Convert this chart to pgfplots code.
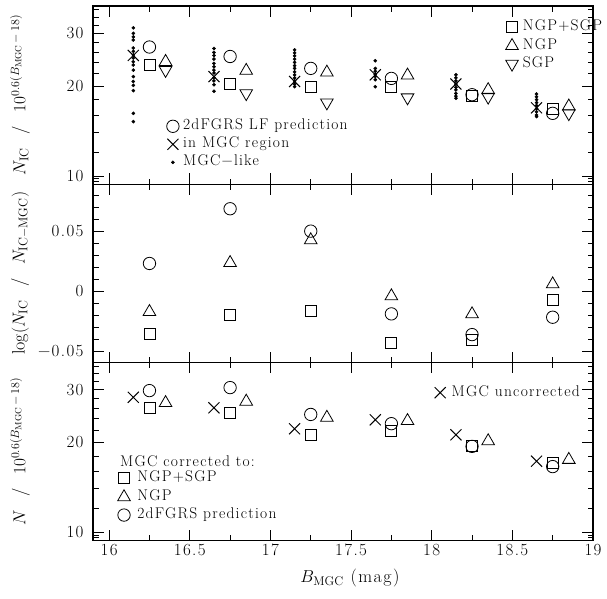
\documentclass[border=0pt]{standalone}
\usepackage{fontspec}
\setmainfont{Latin Modern Roman}[LetterSpace=8]
\usepackage{pgfplots}
\usepackage{pgfplotstable}
\pgfplotsset{compat=1.18}

% ---------------- data ----------------
% top panel: number counts in the input catalogues
\pgfplotstableread{
x y
16.15 25.3
16.65 21.5
17.15 20.7
17.65 21.8
18.15 20.3
18.65 16.9
}\topcross
\pgfplotstableread{
x y
16.15 31.3
16.15 30.0
16.15 29.2
16.15 28.5
16.15 26.8
16.15 26.1
16.15 25.4
16.15 24.8
16.15 24.1
16.15 23.5
16.15 22.6
16.15 21.5
16.15 20.7
16.15 20.1
16.15 19.3
16.15 16.2
16.15 15.2
16.65 26.7
16.65 25.9
16.65 25.3
16.65 24.6
16.65 23.8
16.65 23.2
16.65 22.6
16.65 22.1
16.65 21.3
16.65 20.8
16.65 20.2
16.65 19.2
17.15 26.4
17.15 25.8
17.15 25.2
17.15 24.6
17.15 24.0
17.15 23.4
17.15 22.9
17.15 22.3
17.15 21.8
17.15 21.3
17.15 20.8
17.15 20.3
17.15 19.9
17.65 24.3
17.65 22.9
17.65 22.4
17.65 21.9
17.65 21.5
17.65 21.0
17.65 19.9
18.15 21.8
18.15 21.3
18.15 20.8
18.15 20.3
18.15 19.8
18.15 19.4
18.15 18.9
18.15 18.5
18.15 18.2
18.65 18.8
18.65 18.4
18.65 18.0
18.65 17.6
18.65 17.2
18.65 16.8
18.65 16.4
18.65 16.0
18.65 15.8
}\topdots
\pgfplotstableread{
x y
16.25 27.0
16.75 25.1
17.25 22.9
17.75 21.2
18.25 18.7
18.75 16.2
}\toppred
\pgfplotstableread{
x y
16.25 23.5
16.75 20.4
17.25 19.8
17.75 19.8
18.25 18.5
18.75 16.7
}\topboth
\pgfplotstableread{
x y
16.35 24.1
16.85 22.5
17.35 22.2
17.85 21.7
18.35 19.4
18.85 17.1
}\topngp
\pgfplotstableread{
x y
16.35 22.6
16.85 18.9
17.35 17.6
17.85 18.3
18.35 18.4
18.85 16.2
}\topsgp

% middle panel: log ratio to the counts in the MGC region
\pgfplotstableread{
x y
16.25 0.0232
16.75 0.0689
17.25 0.0502
17.75 -0.0189
18.25 -0.0362
18.75 -0.0217
}\midpred
\pgfplotstableread{
x y
16.25 -0.0172
16.75 0.0237
17.25 0.0427
17.75 -0.0041
18.25 -0.0191
18.75 0.0059
}\midngp
\pgfplotstableread{
x y
16.25 -0.0354
16.75 -0.0195
17.25 -0.0161
17.75 -0.0432
18.25 -0.0410
18.75 -0.0069
}\midboth

% bottom panel: MGC counts, raw and corrected
\pgfplotstableread{
x y
16.15 28.3
16.65 26.1
17.15 22.2
17.65 23.8
18.15 21.2
18.65 17.3
}\botraw
\pgfplotstableread{
x y
16.25 26.1
16.75 25.1
17.25 21.2
17.75 21.8
18.25 19.4
18.75 17.1
}\botboth
\pgfplotstableread{
x y
16.35 27.1
16.85 27.4
17.35 24.2
17.85 23.6
18.35 20.2
18.85 17.5
}\botngp
\pgfplotstableread{
x y
16.25 29.8
16.75 30.5
17.25 24.8
17.75 23.1
18.25 19.4
18.75 16.6
}\botpred

% ---------------- marker styles ----------------
\tikzset{
  mO/.style={only marks, black, mark=o, mark size=6.2pt, mark options={line width=0.8pt}},
  mS/.style={only marks, black, mark=square, mark size=5.5pt, mark options={line width=0.8pt}},
  mT/.style={only marks, black, mark=triangle, mark size=7.3pt, mark options={line width=0.8pt}},
  mV/.style={only marks, black, mark=triangle, mark size=7.3pt, mark options={line width=0.8pt, rotate=180}},
  mX/.style={only marks, black, mark=x, mark size=7.8pt, mark options={line width=1pt}},
  mD/.style={only marks, black, mark=*, mark size=1.6pt},
}

\begin{document}
\begin{tikzpicture}
\path[use as bounding box] (0pt,0pt) rectangle (607pt,598pt);

\pgfplotsset{every axis/.append style={
    scale only axis, width=500pt, height=178.2pt,
    anchor=south west,
    tick align=inside, xtick pos=both, ytick pos=both,
    major tick length=11pt, minor tick length=5.5pt,
    axis line style={line width=1.5pt},
    every tick/.append style={line width=0.7pt, black},
    /pgf/number format/assume math mode=true,
    tick label style={font=\fontsize{17}{17}\selectfont},
    yticklabel style={xshift=-6pt},
    label style={font=\fontsize{18}{20}\selectfont},
    scaled y ticks=false,
    legend cell align=left,
    legend image code/.code={\draw[#1] plot coordinates {(0pt,0pt)};},
    legend style={draw=none, fill=none, inner sep=0pt, row sep=5pt,
      font=\fontsize{15.5}{17}\selectfont,
      nodes={inner sep=0pt, text height=10pt, text depth=3pt}},
}}

% ---- top panel ----
\begin{axis}[at={(93pt,413.7pt)},
  xmin=15.9, xmax=19.0,
  xtick={16,16.5,17,17.5,18,18.5,19}, xticklabels={},
  minor xtick={16.25,16.75,17.25,17.75,18.25,18.75},
  ymode=log, ymin=9.38, ymax=37.0,
  ytick={10,20,30}, yticklabels={10,20,30},
  minor ytick={9.4,9.6,9.8,12,14,16,18,22,24,26,28,32,34,36},
  ylabel={$N_{\mathrm{IC}}$~~/~~$10^{0.6(B_{\mathrm{MGC}}\,-\,18)}$},
  ylabel style={at={(axis description cs:-0.146,0.5)}, anchor=center},
  legend style={at={(0.825,0.920)}, anchor=north west,
    /tikz/every odd column/.append style={column sep=4.5pt}}]
  \addlegendimage{mS}\addlegendentry{NGP+SGP}
  \addlegendimage{mT}\addlegendentry{NGP}
  \addlegendimage{mV}\addlegendentry{SGP}
  \addplot[mD, forget plot] table {\topdots};
  \addplot[mX, forget plot] table {\topcross};
  \addplot[mO, forget plot] table {\toppred};
  \addplot[mS, forget plot] table {\topboth};
  \addplot[mT, forget plot] table {\topngp};
  \addplot[mV, forget plot] table {\topsgp};
\end{axis}
\begin{axis}[at={(93pt,413.7pt)}, hide axis, xmin=0, xmax=1, ymin=0, ymax=1,
  legend style={at={(0.147,0.363)}, anchor=north west,
    /tikz/every odd column/.append style={column sep=4pt}}]
  \addlegendimage{mO}\addlegendentry{2dFGRS LF prediction}
  \addlegendimage{mX}\addlegendentry{in MGC region}
  \addlegendimage{mD}\addlegendentry{MGC−like}
\end{axis}

% ---- middle panel ----
\begin{axis}[at={(93pt,235.5pt)},
  xmin=15.9, xmax=19.0,
  xtick={16,16.5,17,17.5,18,18.5,19}, xticklabels={},
  minor xtick={16.25,16.75,17.25,17.75,18.25,18.75},
  ymin=-0.0595, ymax=0.0893,
  ytick={-0.05,0,0.05}, yticklabels={−0.05,0,0.05},
  minor ytick={-0.04,-0.03,-0.02,-0.01,0.01,0.02,0.03,0.04,0.06,0.07,0.08},
  ylabel={$\log(N_{\mathrm{IC}}$~~/~~$N_{\mathrm{IC{-}MGC}})$},
  ylabel style={at={(axis description cs:-0.146,0.5)}, anchor=center}]
  \addplot[mO] table {\midpred};
  \addplot[mT] table {\midngp};
  \addplot[mS] table {\midboth};
\end{axis}

% ---- bottom panel ----
\begin{axis}[at={(93pt,57.3pt)},
  xmin=15.9, xmax=19.0,
  xtick={16,16.5,17,17.5,18,18.5,19},
  xticklabels={16,16.5,17,17.5,18,18.5,19},
  minor xtick={16.25,16.75,17.25,17.75,18.25,18.75},
  ymode=log, ymin=9.38, ymax=37.0,
  ytick={10,20,30}, yticklabels={10,20,30},
  minor ytick={9.4,9.6,9.8,12,14,16,18,22,24,26,28,32,34,36},
  ylabel={$N$~~/~~$10^{0.6(B_{\mathrm{MGC}}\,-\,18)}$},
  ylabel style={at={(axis description cs:-0.146,0.5)}, anchor=center},
  xlabel={$B_{\mathrm{MGC}}$ (mag)},
  xlabel style={at={(axis description cs:0.514,-0.209)}, anchor=center},
  legend style={at={(0.049,0.388)}, anchor=north west,
    /tikz/every odd column/.append style={column sep=7pt}}]
  \addlegendimage{mS}\addlegendentry{NGP+SGP}
  \addlegendimage{mT}\addlegendentry{NGP}
  \addlegendimage{mO}\addlegendentry{2dFGRS prediction}
  \addplot[mX, forget plot] table {\botraw};
  \addplot[mO, forget plot] table {\botpred};
  \addplot[mS, forget plot] table {\botboth};
  \addplot[mT, forget plot] table {\botngp};
  \node[anchor=west, inner sep=0pt, font=\fontsize{15.5}{17}\selectfont]
    at (rel axis cs:0.054,0.444) {MGC corrected to:};
\end{axis}
\begin{axis}[at={(93pt,57.3pt)}, hide axis, xmin=0, xmax=1, ymin=0, ymax=1,
  legend style={at={(0.683,0.868)}, anchor=north west,
    /tikz/every odd column/.append style={column sep=6pt}}]
  \addlegendimage{mX}\addlegendentry{MGC uncorrected}
\end{axis}
\end{tikzpicture}
\end{document}
